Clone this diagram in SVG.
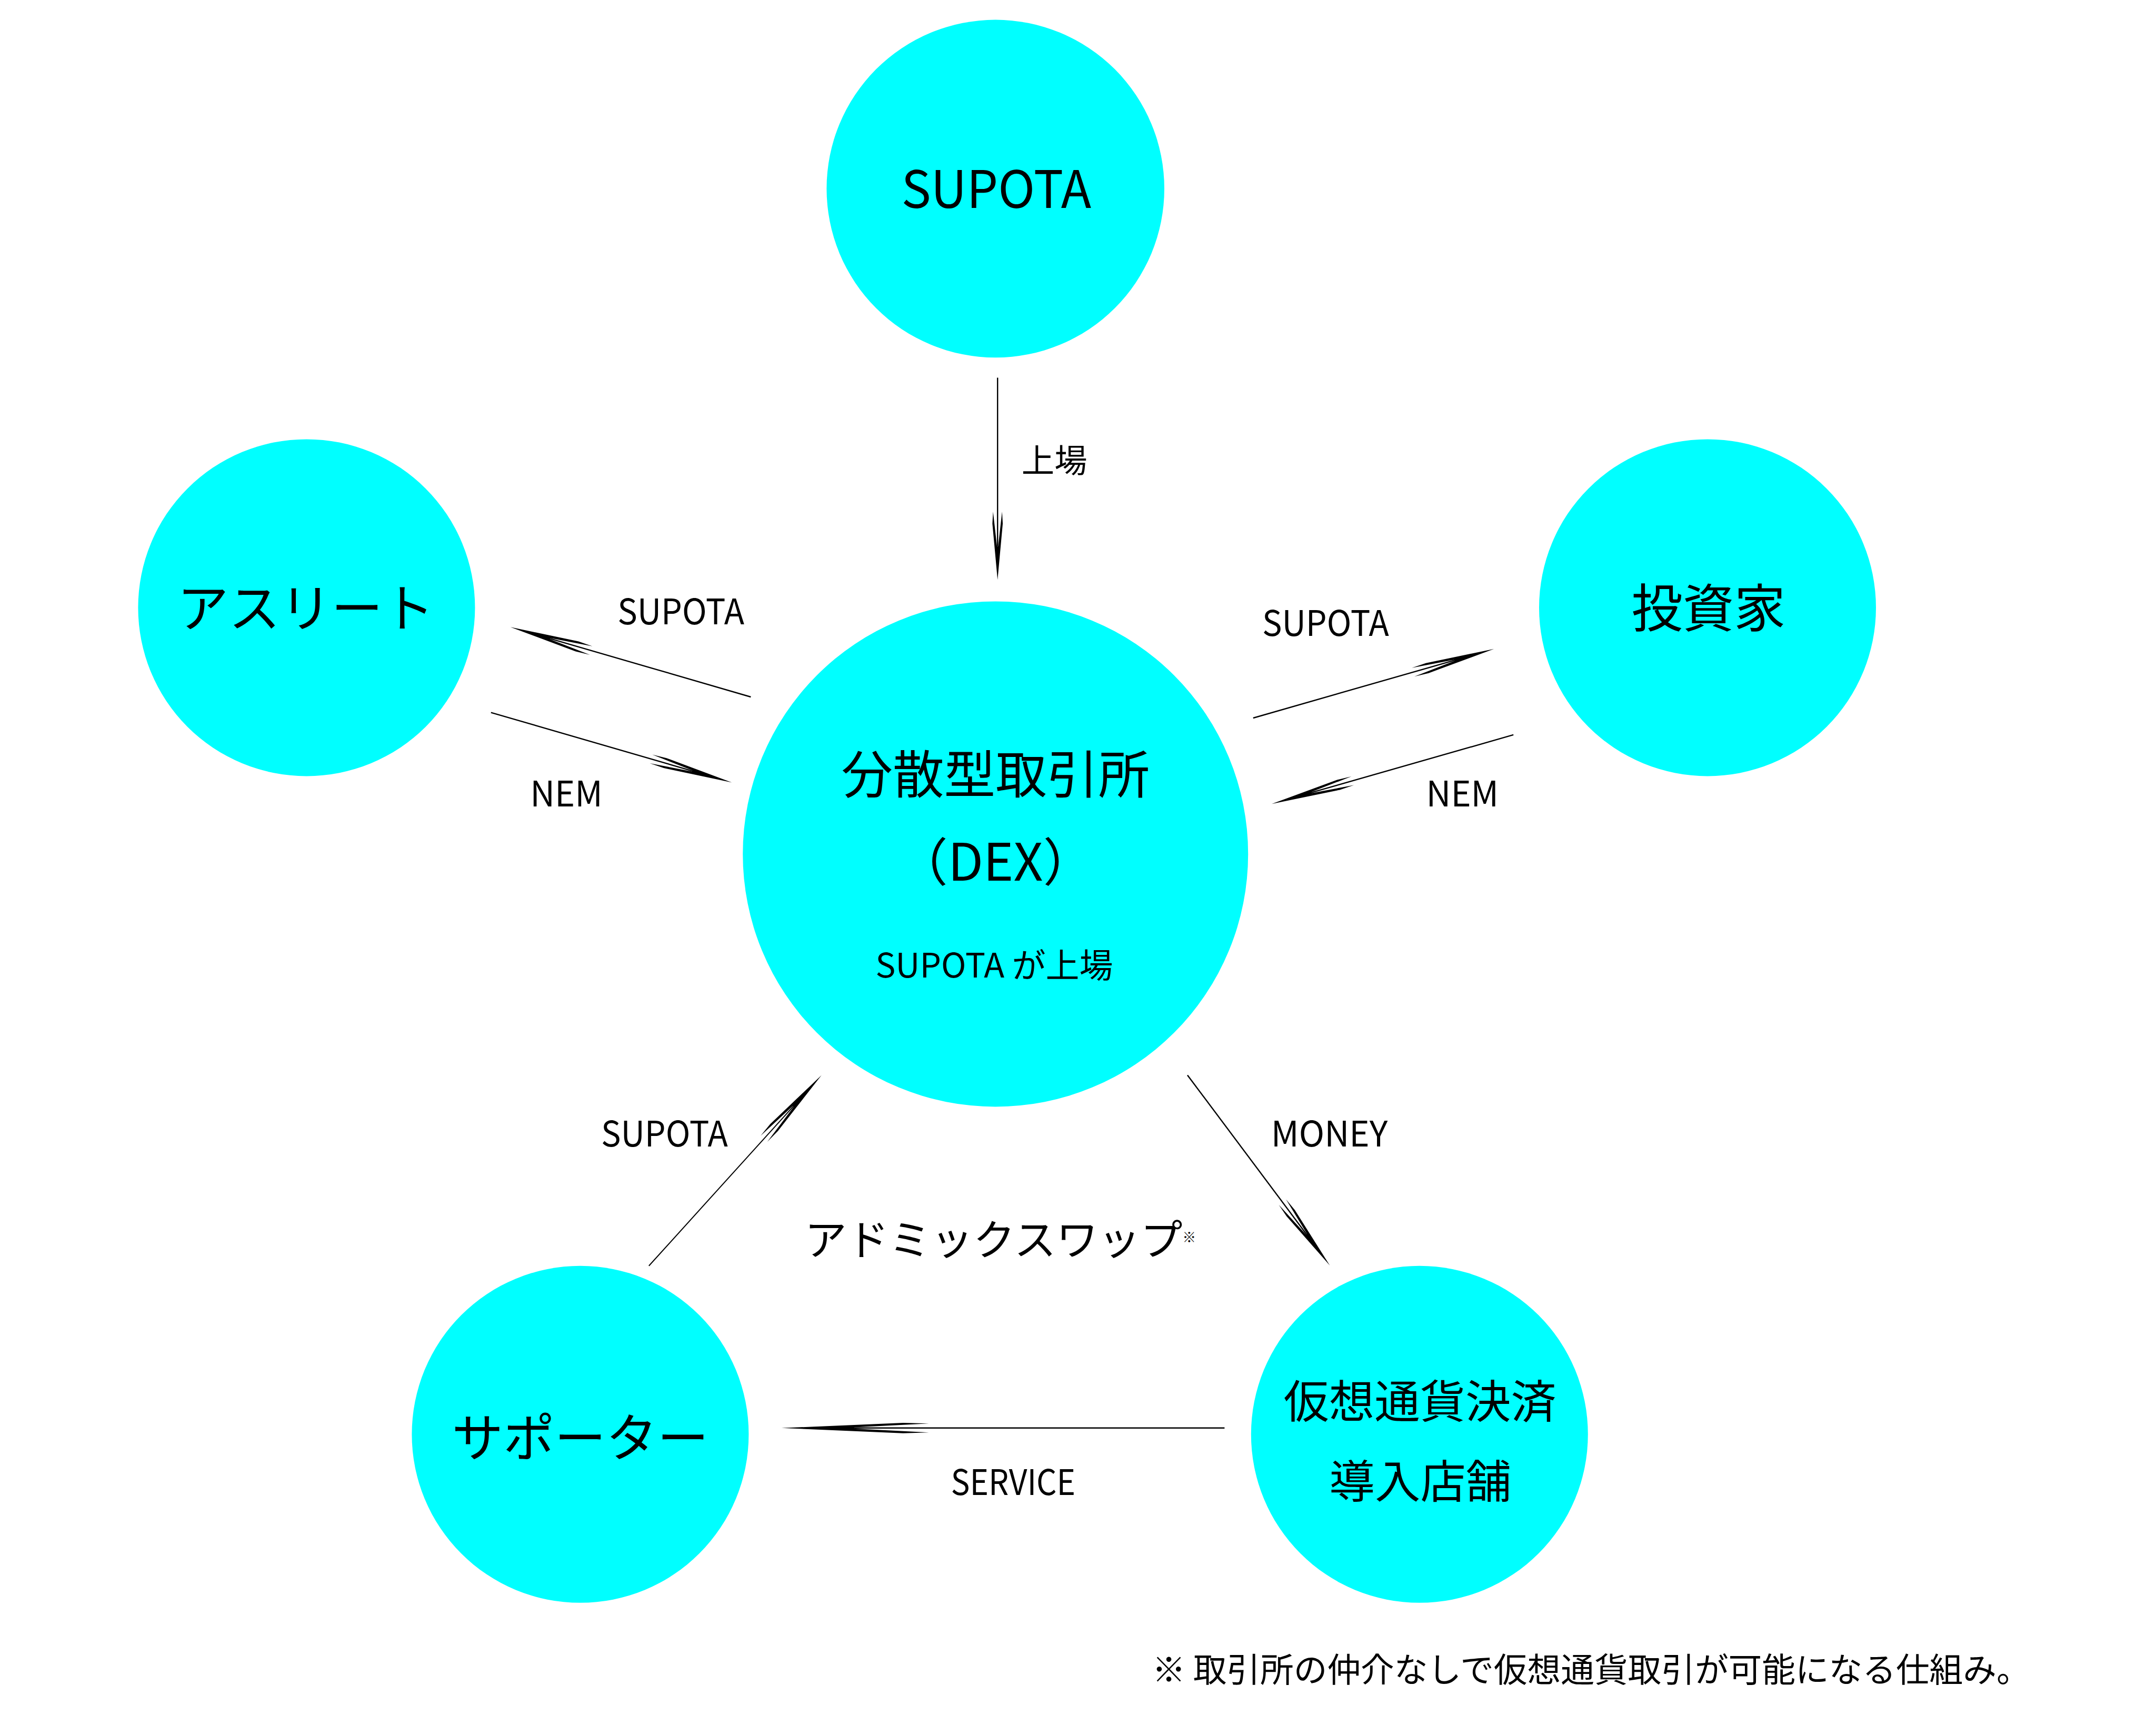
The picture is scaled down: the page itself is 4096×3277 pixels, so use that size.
<svg xmlns="http://www.w3.org/2000/svg" xmlns:xlink="http://www.w3.org/1999/xlink" width="4096" height="3277" viewBox="0 0 4096 3277">
<defs>
<style>
.node{fill:#00FFFF;}
text{font-family:"Noto Sans CJK JP","Noto Sans",sans-serif;fill:#000;}
.big{font-size:122px;text-anchor:middle;}
.mid{font-size:108px;text-anchor:middle;}
.lbl{font-size:84px;text-anchor:middle;}
.sub{font-size:80px;text-anchor:middle;}
.conn line{stroke:#000;stroke-width:3;fill:none;}
.conn use{fill:#000;}
</style>
<path id="ah" d="M0,0 L-0.825,-12.3 L-1,-10.7 L-0.495,-1.5 L-0.495,1.5 L-1,10.7 L-0.825,12.3 Z"/>
</defs>
<rect x="0" y="0" width="4096" height="3277" fill="#FFFFFF"/>
<g transform="scale(0.8)">
<g id="node-supota">
<circle class="node" cx="2364" cy="448" r="401"/>
<text class="big" x="2366" y="494" textLength="451" lengthAdjust="spacingAndGlyphs">SUPOTA</text>
</g>
<g id="node-athlete">
<circle class="node" cx="728" cy="1443" r="400"/>
<text class="big" x="726" y="1489">アスリート</text>
</g>
<g id="node-investor">
<circle class="node" cx="4055" cy="1443" r="400"/>
<text class="big" x="4057" y="1489">投資家</text>
</g>
<g id="node-dex">
<circle class="node" cx="2364" cy="2028" r="600"/>
<text class="big" x="2364" y="1884">分散型取引所</text>
<text class="big" x="2364" y="2091">（DEX）</text>
<text class="sub" x="2361" y="2321">SUPOTA が上場</text>
</g>
<g id="node-supporter">
<circle class="node" cx="1378" cy="3406" r="400"/>
<text class="big" x="1378" y="3459">サポーター</text>
</g>
<g id="node-store">
<circle class="node" cx="3371" cy="3406" r="400"/>
<text class="mid" x="3372" y="3368">仮想通貨決済</text>
<text class="mid" x="3373" y="3557">導入店舗</text>
</g>
<g id="connectors" class="conn">
<g transform="translate(2369,1377) rotate(90)"><line x1="-480" y1="0" x2="-80" y2="0"/><use xlink:href="#ah" transform="scale(162,1)"/></g>
<g transform="translate(1212,1489) rotate(196.21)"><line x1="-594.6" y1="0" x2="-99" y2="0"/><use xlink:href="#ah" transform="scale(200,1)"/></g>
<g transform="translate(1738,1858) rotate(16.18)"><line x1="-595.6" y1="0" x2="-99" y2="0"/><use xlink:href="#ah" transform="scale(200,1)"/></g>
<g transform="translate(3548,1541) rotate(-16.0)"><line x1="-595" y1="0" x2="-99" y2="0"/><use xlink:href="#ah" transform="scale(200,1)"/></g>
<g transform="translate(3020,1909) rotate(164.05)"><line x1="-597" y1="0" x2="-99" y2="0"/><use xlink:href="#ah" transform="scale(200,1)"/></g>
<g transform="translate(1951,2553) rotate(-47.85)"><line x1="-611" y1="0" x2="-101" y2="0" style="stroke-width:2.5"/><use xlink:href="#ah" transform="scale(204,1)"/></g>
<g transform="translate(3158,3005) rotate(53.21)"><line x1="-564.4" y1="0" x2="-93" y2="0"/><use xlink:href="#ah" transform="scale(188,1)"/></g>
<g transform="translate(1856,3391) rotate(180)"><line x1="-1052" y1="0" x2="-173" y2="0"/><use xlink:href="#ah" transform="scale(350,1)"/></g>
</g>
<g id="labels">
<text x="2426" y="1123" style="font-size:78px">上場</text>
<text class="lbl" x="1617" y="1482" textLength="301" lengthAdjust="spacingAndGlyphs">SUPOTA</text>
<text class="lbl" x="1345" y="1915" textLength="172" lengthAdjust="spacingAndGlyphs">NEM</text>
<text class="lbl" x="3148" y="1510" textLength="301" lengthAdjust="spacingAndGlyphs">SUPOTA</text>
<text class="lbl" x="3473" y="1915" textLength="172" lengthAdjust="spacingAndGlyphs">NEM</text>
<text class="lbl" x="1578" y="2723" textLength="301" lengthAdjust="spacingAndGlyphs">SUPOTA</text>
<text class="lbl" x="3157" y="2722" textLength="277" lengthAdjust="spacingAndGlyphs">MONEY</text>
<text class="lbl" x="2406" y="3550" textLength="296" lengthAdjust="spacingAndGlyphs">SERVICE</text>
<text x="1911" y="2980" style="font-size:100px">アドミックスワップ<tspan style="font-size:32px" dy="-30">※</tspan></text>
<text x="2736" y="3994" style="font-size:79.6px">※ 取引所の仲介なしで仮想通貨取引が可能になる仕組み。</text>
</g>
</g>
</svg>
